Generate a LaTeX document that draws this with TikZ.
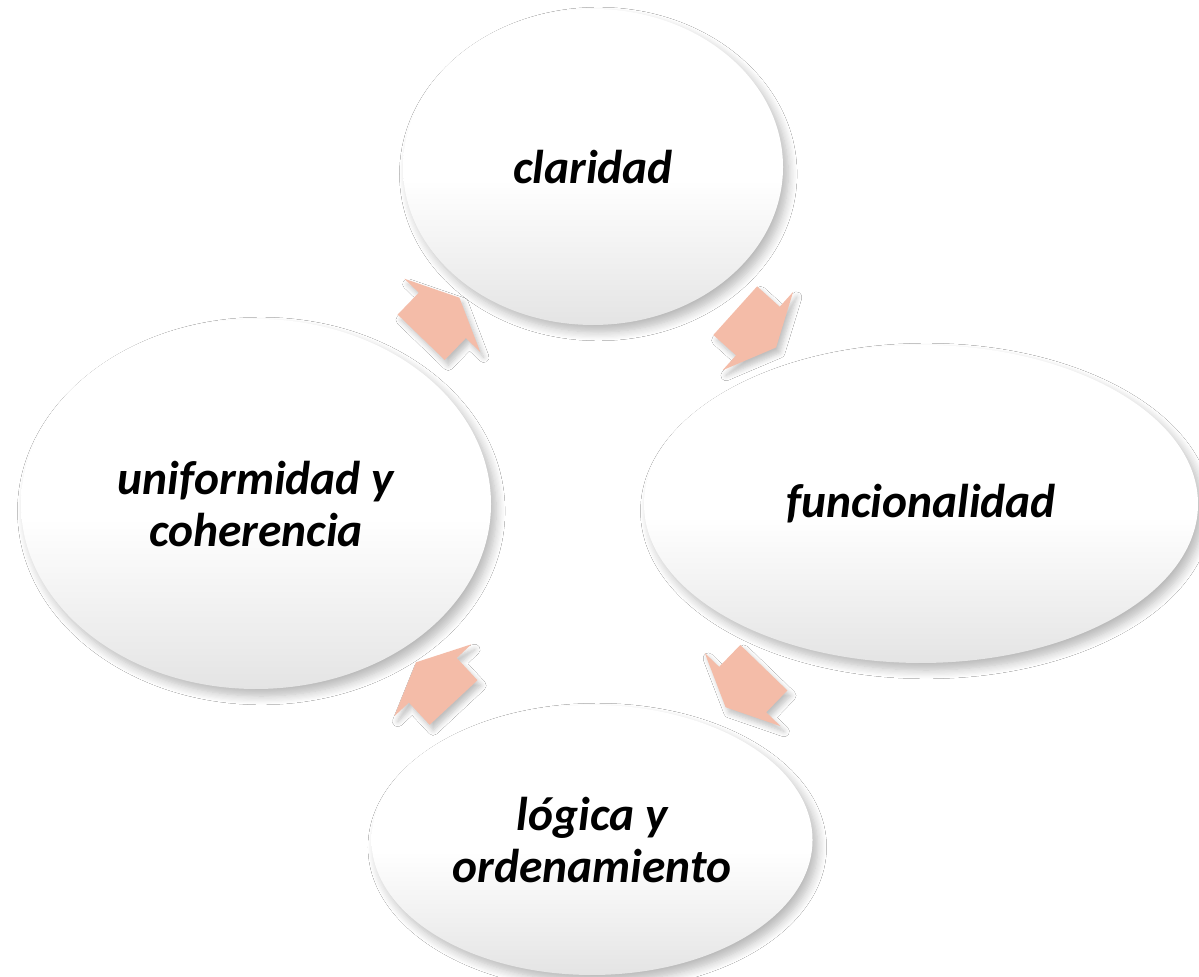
\documentclass[tikz,border=0pt]{standalone}
\usepackage{fontspec}
\setmainfont{Carlito}
\usetikzlibrary{%
    calc,
    positioning,
    shadows.blur,
    shapes.arrows,
    shapes.geometric
}
\definecolor{salmon}{RGB}{244,188,168}
\definecolor{bubblegray}{RGB}{228,228,228}
\pgfdeclareverticalshading{bubbleshade}{100bp}{color(0bp)=(bubblegray); color(25bp)=(bubblegray);
    color(48bp)=(white); color(100bp)=(white)}
\tikzset{bubble/.style = {ellipse, inner sep=0pt, shading=bubbleshade,
    blur shadow={shadow xshift=1.5pt, shadow yshift=-2pt, shadow blur radius=2.5pt,
        shadow blur steps=8, shadow opacity=28},
    align=center, font=\fontsize{13.5}{15}\selectfont\bfseries\itshape}}
\tikzset{cyclearrow/.style = {single arrow, fill=salmon, inner xsep=0pt, inner ysep=.32cm,
    minimum height=.55cm, single arrow head extend=.2cm, single arrow tip angle=130,
    blur shadow={shadow xshift=1pt, shadow yshift=-1.5pt, shadow blur radius=1.5pt,
        shadow blur steps=6, shadow opacity=25}}}

\begin{document}
\begin{tikzpicture}
    \useasboundingbox[fill=white] (0,0) rectangle (11.99,9.77);

    \node[bubble, minimum width=3.80cm, minimum height=3.16cm] (clar) at (5.93,8.10) {claridad};
    \node[bubble, minimum width=5.54cm, minimum height=3.18cm] (func) at (9.21,4.73) {funcionalidad};
    \node[bubble, minimum width=4.41cm, minimum height=2.70cm] (logi) at (5.92,1.37) {lógica y\\ordenamiento};
    \node[bubble, minimum width=4.70cm, minimum height=3.70cm] (unif) at (2.56,4.73) {uniformidad y\\coherencia};

    \foreach \Name/\X/\Y/\Angle in {toFunc/7.50/6.53/-42, toLogi/7.50/2.95/-134,
                                    toUnif/4.40/2.89/133, toClar/4.35/6.54/46}
        \node[cyclearrow, rotate=\Angle] (\Name) at (\X,\Y) {};
\end{tikzpicture}
\end{document}
